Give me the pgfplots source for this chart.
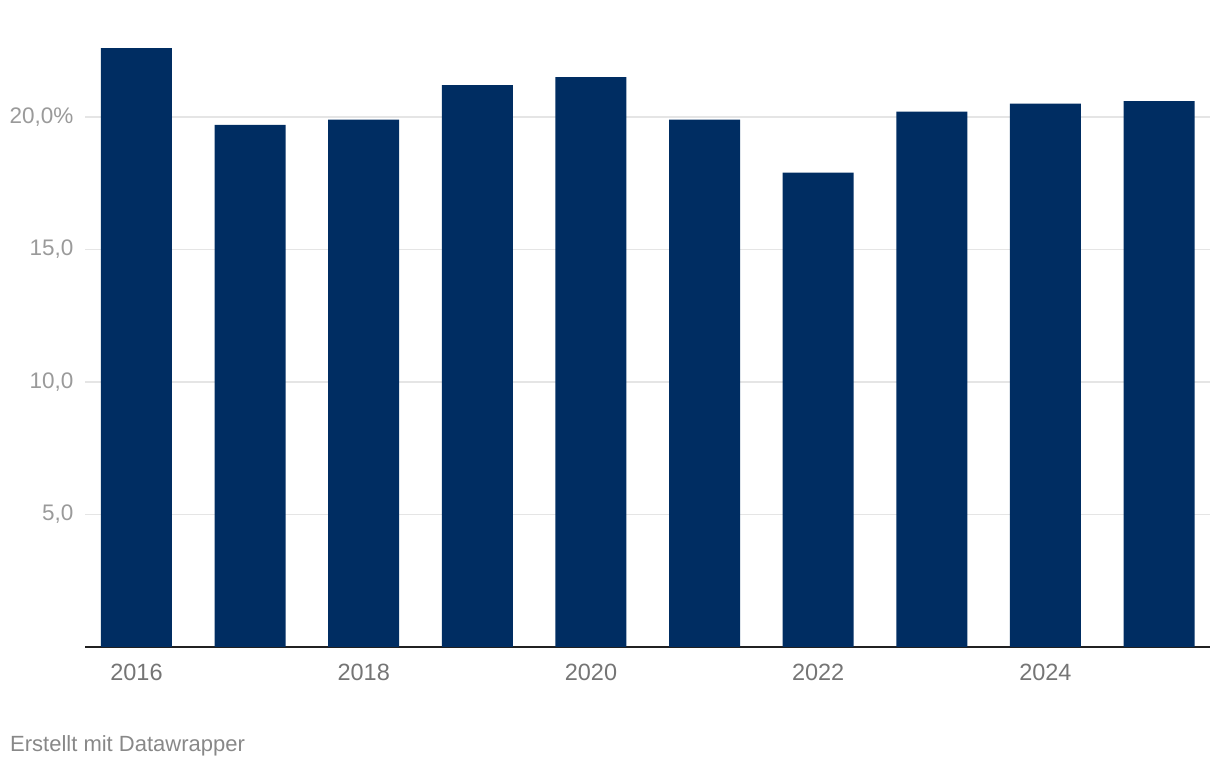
\documentclass[border=0pt]{standalone}
\usepackage{pgfplots}
\pgfplotsset{compat=1.18}
\usepackage{fontspec}
\setmainfont{Liberation Sans}
\definecolor{barcol}{HTML}{002D62}
\definecolor{gridcol}{HTML}{E5E5E5}
\definecolor{ylab}{HTML}{9A9A9A}
\definecolor{xlab}{HTML}{757575}
\definecolor{foot}{HTML}{888888}
\begin{document}
\begin{tikzpicture}[x=1pt,y=1pt]
\useasboundingbox (0,0) rectangle (1220,770);
\begin{axis}[
  at={(85pt,123pt)}, anchor=south west,
  scale only axis, width=1125pt, height=609.5pt,
  xmin=-0.453, xmax=9.449, ymin=0, ymax=23,
  axis x line*=bottom, axis y line*=left,
  x axis line style={draw=black!87, line width=2pt, -},
  y axis line style={draw=none},
  major tick length=0pt,
  xtick={0,2,4,6,8},
  xticklabels={2016,2018,2020,2022,2024},
  ytick={5,10,15,20},
  yticklabels={{5,0},{10,0},{15,0},{20,0\%}},
  ymajorgrids,
  grid style={draw=gridcol, line width=1.4pt},
  yticklabel style={anchor=east, xshift=-8pt, text=ylab, font=\fontsize{22.5}{26}\selectfont},
  xticklabel style={anchor=north, yshift=-14pt, text=xlab, font=\fontsize{23.5}{26}\selectfont},
  clip=false,
]
\addplot[ybar, bar width=0.625, bar shift=0pt, fill=barcol, draw=none] coordinates {
  (0,22.6) (1,19.7) (2,19.9) (3,21.2) (4,21.5)
  (5,19.9) (6,17.9) (7,20.2) (8,20.5) (9,20.6)
};
\end{axis}
\node[anchor=west, text=foot, font=\fontsize{22}{26}\selectfont, inner sep=0pt] at (10,24) {Erstellt mit Datawrapper};
\end{tikzpicture}
\end{document}
